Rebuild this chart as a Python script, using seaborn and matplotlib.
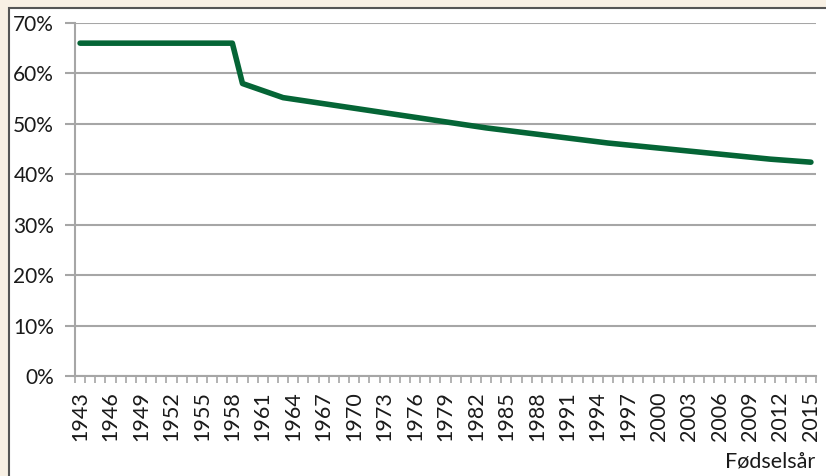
import numpy as np
import matplotlib
matplotlib.use("Agg")
import matplotlib.pyplot as plt
import seaborn as sns
from matplotlib.patches import Rectangle
from matplotlib.ticker import FixedLocator, FuncFormatter

# =========================================================
# DATA
# =========================================================

years = list(range(1943, 2016))
share = [
    66.0, 66.0, 66.0, 66.0, 66.0, 66.0, 66.0, 66.0,   # 1943-1950
    66.0, 66.0, 66.0, 66.0, 66.0, 66.0, 66.0, 66.0,   # 1951-1958
    58.0, 57.3, 56.6, 55.9, 55.2, 54.9, 54.6, 54.3,   # 1959-1966
    54.0, 53.7, 53.4, 53.1, 52.8, 52.5, 52.2, 51.9,   # 1967-1974
    51.6, 51.3, 51.0, 50.7, 50.4, 50.1, 49.8, 49.5,   # 1975-1982
    49.2, 48.95, 48.7, 48.45, 48.2, 47.95, 47.7, 47.45,  # 1983-1990
    47.2, 46.95, 46.7, 46.45, 46.2, 46.0, 45.8, 45.6,    # 1991-1998
    45.4, 45.2, 45.0, 44.8, 44.6, 44.4, 44.2, 44.0,      # 1999-2006
    43.8, 43.6, 43.4, 43.2, 43.0, 42.85, 42.7, 42.55,    # 2007-2014
    42.4,                                                # 2015
]
label_years = list(range(1943, 2016, 3))
y_ticks = [0, 10, 20, 30, 40, 50, 60, 70]
x_label = "Fødselsår"

# =========================================================
# PLOT
# =========================================================

sns.set_style("white")
plt.rcParams["font.family"] = ["Lato", "DejaVu Sans"]

fig = plt.figure(figsize=(8.26, 4.76), dpi=100)
fig.patch.set_facecolor("#F8F0E4")

# white panel with dark frame (behind the axes)
fig.patches.append(Rectangle((9 / 826, -0.1), 1.1, (476 - 8) / 476 + 0.1,
                             transform=fig.transFigure, facecolor="white",
                             edgecolor="#555555", linewidth=1.5, zorder=-5))

ax = fig.add_axes([75 / 826, 100 / 476, (816 - 75) / 826, (376 - 23) / 476])
ax.set_facecolor("none")

sns.lineplot(x=years, y=share, ax=ax, color="#056536", linewidth=4.0,
             solid_capstyle="round", zorder=3)

ax.set_xlim(1942.5, 2015.5)
ax.set_ylim(0, 70)

ax.set_yticks(y_ticks)
ax.yaxis.set_major_formatter(FuncFormatter(lambda v, p: f"{int(v)}%"))
ax.grid(axis="y", color="#A6A6A6", linewidth=1.5)
ax.grid(axis="x", visible=False)

ax.set_xticks(label_years)
ax.set_xticklabels([str(y) for y in label_years], rotation=90)
ax.xaxis.set_minor_locator(FixedLocator(np.arange(1942.5, 2016, 1)))
ax.tick_params(axis="x", which="major", length=0, pad=11, labelsize=15.5,
               labelcolor="#1a1a1a")
ax.tick_params(axis="x", which="minor", length=5, width=1.2, color="#A6A6A6",
               direction="out", bottom=True)
ax.tick_params(axis="y", which="major", length=7, width=1.5, color="#A6A6A6",
               direction="out", left=True, labelsize=15, pad=8,
               labelcolor="#1a1a1a")

for side in ["top", "right"]:
    ax.spines[side].set_visible(False)
for side in ["left", "bottom"]:
    ax.spines[side].set_color("#A6A6A6")
    ax.spines[side].set_linewidth(1.5)

ax.set_xlabel("")
ax.set_ylabel("")

fig.text(815 / 826, 1 - 462 / 476, x_label, ha="right", va="center",
         fontsize=15.5, color="#1a1a1a")

fig.savefig("out.png", dpi=100)
